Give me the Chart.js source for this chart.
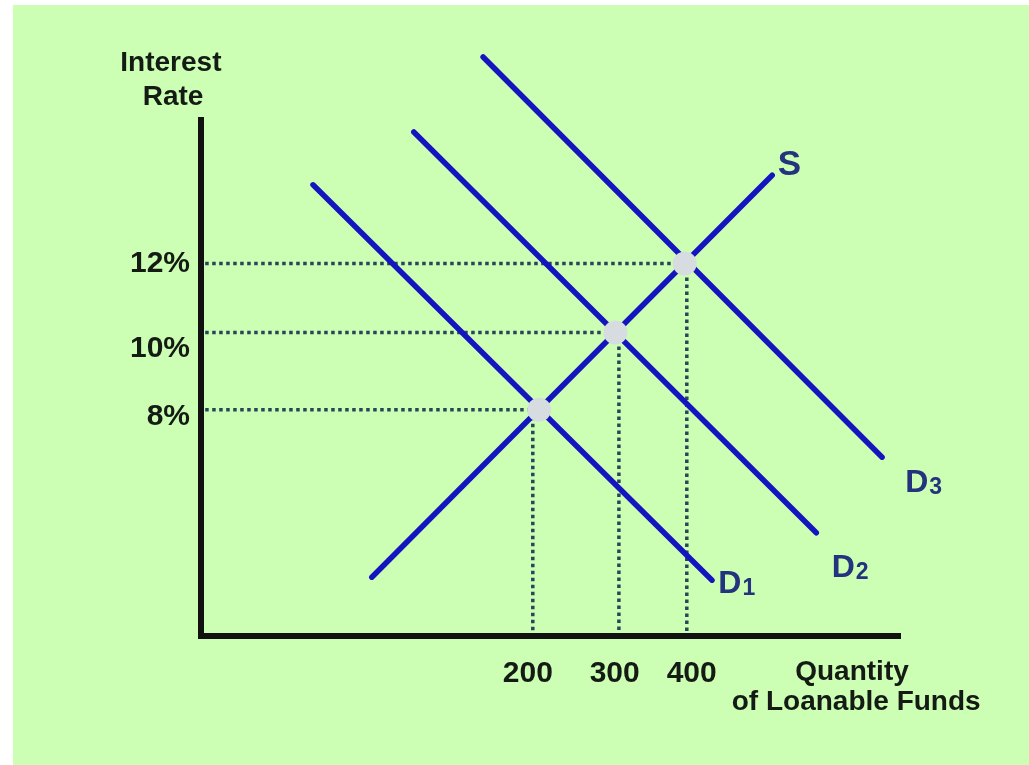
<!DOCTYPE html>
<html>
<head>
<meta charset="utf-8">
<title>Loanable funds market</title>
<script src="https://cdn.jsdelivr.net/npm/chart.js@4.4.1/dist/chart.umd.min.js"></script>
<style>
  html, body { margin: 0; padding: 0; background: #fff; }
  #wrap { position: absolute; left: 0; top: 0; width: 1029px; height: 765px; }
</style>
</head>
<body>
<div id="wrap"><canvas id="myChart" width="1029" height="765"></canvas></div>
<script>
// chart units: quantity 0..100 across, interest rate 0..100 up (diagram is not to scale)
const curveNames = ['S', 'D1', 'D2', 'D3'];
const curveStartQ = [24.4, 16.0, 30.4, 40.3];
const curveStartR = [9.8, 75.2, 84.0, 96.5];
const curveEndQ = [81.6, 73.0, 87.9, 97.3];
const curveEndR = [76.8, 9.3, 17.2, 29.8];

// equilibrium points (S crossing D1, D2, D3)
const eqQ = [48.3, 59.2, 69.1];
const eqR = [37.7, 50.6, 62.1];
// where the dotted drop lines meet the quantity axis
const guideQ = [47.4, 59.7, 69.4];

const rateTickLabels = ['8%', '10%', '12%'];
const rateTickPos = [36.6, 47.8, 62.0];
const qtyTickLabels = ['200', '300', '400'];
const qtyTickPos = [46.7, 59.1, 70.1];

const curveLabelQ = [82.4, 73.9, 90.1, 100.6];
const curveLabelR = [76.8, 7.2, 9.8, 24.0];

const axisTopR = 86.5;
const axisRightQ = 100;

const lineBlue = '#1515c0';
const dotColor = '#2a4459';
const labelBlue = '#24337e';
const textDark = '#141a14';

var datasets = [];

// axes drawn as one black polyline
datasets.push({
  data: [{ x: 0, y: axisTopR }, { x: 0, y: 0 }, { x: axisRightQ, y: 0 }],
  showLine: true,
  borderColor: '#111',
  borderWidth: 6,
  borderJoinStyle: 'miter',
  pointRadius: 0,
  clip: false,
  order: 3
});

// dotted guide lines
for (var i = 0; i < eqQ.length; i++) {
  datasets.push({
    data: [{ x: 0.6, y: eqR[i] }, { x: eqQ[i], y: eqR[i] }],
    showLine: true,
    borderColor: dotColor,
    borderWidth: 3.5,
    borderDash: [3.5, 3.5],
    pointRadius: 0,
    clip: false,
    order: 2
  });
  datasets.push({
    data: [{ x: guideQ[i], y: eqR[i] }, { x: guideQ[i], y: 0.8 }],
    showLine: true,
    borderColor: dotColor,
    borderWidth: 3.5,
    borderDash: [3.5, 3.5],
    pointRadius: 0,
    clip: false,
    order: 2
  });
}

// supply and demand curves
for (var j = 0; j < curveNames.length; j++) {
  datasets.push({
    label: curveNames[j],
    data: [{ x: curveStartQ[j], y: curveStartR[j] }, { x: curveEndQ[j], y: curveEndR[j] }],
    showLine: true,
    borderColor: lineBlue,
    borderWidth: 5.5,
    borderCapStyle: 'round',
    pointRadius: 0,
    clip: false,
    order: 1
  });
}

// equilibrium dots
datasets.push({
  data: eqQ.map(function(q, k) { return { x: q, y: eqR[k] }; }),
  showLine: false,
  pointRadius: 12,
  pointBackgroundColor: '#d6dce0',
  pointBorderWidth: 0,
  clip: false,
  order: 0
});

const paperPlugin = {
  id: 'paper',
  beforeDraw(chart) {
    const c = chart.ctx;
    c.save();
    c.fillStyle = '#ffffff';
    c.fillRect(0, 0, chart.width, chart.height);
    c.fillStyle = '#ccffb4';
    c.fillRect(13, 5, chart.width - 13, chart.height - 5);
    c.restore();
  },
  afterDraw(chart) {
    const c = chart.ctx;
    const xs = chart.scales.x;
    const ys = chart.scales.y;
    c.save();

    // axis titles
    c.fillStyle = textDark;
    c.textAlign = 'center';
    c.textBaseline = 'middle';
    c.font = 'bold 28px "Liberation Sans", Arial, sans-serif';
    c.fillText('Interest', xs.getPixelForValue(-4.3), ys.getPixelForValue(95.5));
    c.fillText('Rate', xs.getPixelForValue(-4.0), ys.getPixelForValue(89.8));
    c.fillText('Quantity', xs.getPixelForValue(93.0), ys.getPixelForValue(-6.0));
    c.fillText('of Loanable Funds', xs.getPixelForValue(93.6), ys.getPixelForValue(-11.0));

    // curve labels with subscripts
    c.fillStyle = labelBlue;
    c.textAlign = 'left';
    c.textBaseline = 'alphabetic';
    for (var n = 0; n < curveNames.length; n++) {
      var px = xs.getPixelForValue(curveLabelQ[n]);
      var py = ys.getPixelForValue(curveLabelR[n]);
      var main = curveNames[n].charAt(0);
      var sub = curveNames[n].slice(1);
      c.font = (sub ? 'bold 32px' : 'bold 35px') + ' "Liberation Sans", Arial, sans-serif';
      c.fillText(main, px, py);
      if (sub) {
        var w = c.measureText(main).width;
        c.font = 'bold 23px "Liberation Sans", Arial, sans-serif';
        c.fillText(sub, px + w + 1, py + 2);
      }
    }
    c.restore();
  }
};

const ctx = document.getElementById('myChart').getContext('2d');
var chart = new Chart(ctx, {
  type: 'scatter',
  data: { datasets: datasets },
  options: {
    responsive: false,
    animation: false,
    layout: { padding: { left: 0, right: 128, top: 36, bottom: 0 } },
    plugins: {
      legend: { display: false },
      tooltip: { enabled: false }
    },
    elements: { line: { tension: 0 } },
    scales: {
      x: {
        type: 'linear',
        min: 0,
        max: 100,
        grid: { display: false, drawTicks: false },
        border: { display: false },
        afterFit: function(scale) { scale.height = 129; },
        afterBuildTicks: function(scale) {
          scale.ticks = qtyTickPos.map(function(v) { return { value: v }; });
        },
        ticks: {
          autoSkip: false,
          maxRotation: 0,
          padding: 20,
          color: textDark,
          font: { family: '"Liberation Sans", Arial, sans-serif', size: 30, weight: 'bold' },
          callback: function(value, index) { return qtyTickLabels[index]; }
        }
      },
      y: {
        type: 'linear',
        min: 0,
        max: 100,
        grid: { display: false, drawTicks: false },
        border: { display: false },
        afterFit: function(scale) { scale.width = 201; },
        afterBuildTicks: function(scale) {
          scale.ticks = rateTickPos.map(function(v) { return { value: v }; });
        },
        ticks: {
          autoSkip: false,
          padding: 11,
          color: textDark,
          font: { family: '"Liberation Sans", Arial, sans-serif', size: 30, weight: 'bold' },
          callback: function(value, index) { return rateTickLabels[index]; }
        }
      }
    }
  },
  plugins: [paperPlugin]
});
</script>
</body>
</html>
